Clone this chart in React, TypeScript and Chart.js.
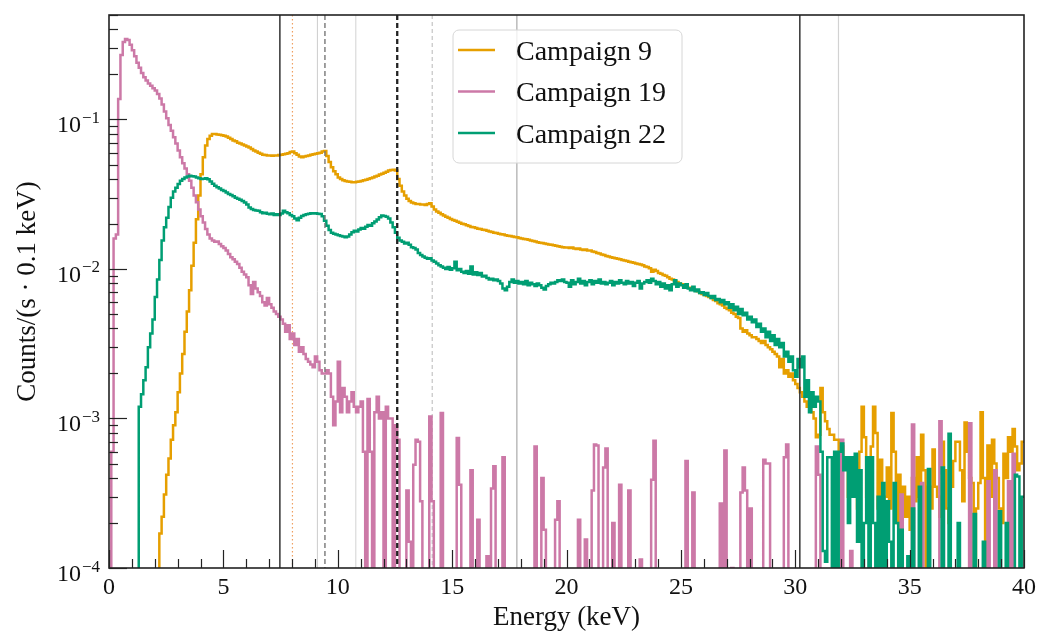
import React, { useEffect, useRef } from "react";
import { Chart, registerables } from "chart.js";

Chart.register(...registerables);

const FONT = '"Liberation Serif", "DejaVu Serif", serif';

const SERIES_LABELS = ["Campaign 9", "Campaign 19", "Campaign 22"];
const SERIES_COLORS = ["#E69F00", "#CC79A7", "#009E73"];
const BIN_WIDTH = 0.1; // keV per bin, bins start at 0 keV

// Counts/(s · 0.1 keV), one value per 0.1 keV bin (rows = 1 keV)
const CAMPAIGN_9 = [
  0, 0, 0, 0, 0, 0, 0, 0, 0, 0,
  0, 0, 0, 0, 0, 0, 0, 0, 0, 0,
  0, 0, 0.00017, 0.00022, 0.00031, 0.00042, 0.00054, 0.00072, 0.0009, 0.0011,
  0.0015, 0.002, 0.0027, 0.0038, 0.0052, 0.0072, 0.0105, 0.015, 0.0215, 0.031,
  0.043, 0.056, 0.067, 0.074, 0.078, 0.08, 0.08, 0.0795, 0.079, 0.0785,
  0.078, 0.077, 0.0755, 0.074, 0.0725, 0.0715, 0.07, 0.069, 0.068, 0.067,
  0.066, 0.065, 0.0635, 0.062, 0.061, 0.06, 0.059, 0.058, 0.0578, 0.0575,
  0.0575, 0.0572, 0.0575, 0.0575, 0.0578, 0.058, 0.0585, 0.059, 0.0595, 0.0605,
  0.061, 0.0595, 0.058, 0.0565, 0.056, 0.0565, 0.057, 0.0575, 0.058, 0.0585,
  0.059, 0.0595, 0.06, 0.061, 0.0615, 0.057, 0.052, 0.048, 0.045, 0.043,
  0.041, 0.04, 0.0392, 0.0388, 0.0385, 0.0383, 0.038, 0.0381, 0.0383, 0.0385,
  0.0388, 0.0392, 0.0396, 0.04, 0.0405, 0.041, 0.0415, 0.042, 0.0428, 0.0434,
  0.044, 0.0448, 0.0455, 0.046, 0.0462, 0.0455, 0.04, 0.036, 0.033, 0.031,
  0.0295, 0.0285, 0.0278, 0.0275, 0.0272, 0.0272, 0.027, 0.027, 0.0268, 0.0272,
  0.0275, 0.0262, 0.025, 0.0242, 0.0238, 0.0232, 0.0228, 0.0224, 0.022, 0.0216,
  0.0213, 0.021, 0.0207, 0.0204, 0.0201, 0.0199, 0.0196, 0.0194, 0.0191, 0.019,
  0.0188, 0.0186, 0.0185, 0.0183, 0.0182, 0.018, 0.0178, 0.0177, 0.0175, 0.0174,
  0.0172, 0.0171, 0.017, 0.0168, 0.0167, 0.0166, 0.0165, 0.0164, 0.0163, 0.0161,
  0.016, 0.0159, 0.0158, 0.0157, 0.0155, 0.0154, 0.0153, 0.0151, 0.015, 0.0149,
  0.0148, 0.0147, 0.0146, 0.0145, 0.0144, 0.0143, 0.0142, 0.0141, 0.014, 0.0139,
  0.0139, 0.0138, 0.0139, 0.0137, 0.0136, 0.0137, 0.0135, 0.0134, 0.0135, 0.0133,
  0.0133, 0.0131, 0.013, 0.0128, 0.0127, 0.0125, 0.0124, 0.0122, 0.0121, 0.012,
  0.0119, 0.0118, 0.0117, 0.0116, 0.0115, 0.0114, 0.0113, 0.0112, 0.0111, 0.011,
  0.0109, 0.0108, 0.0107, 0.0106, 0.0104, 0.0103, 0.0101, 0.0096, 0.0099, 0.0097,
  0.0094, 0.0093, 0.0091, 0.009, 0.0088, 0.0086, 0.0085, 0.0083, 0.0082, 0.008,
  0.0079, 0.0077, 0.0076, 0.0075, 0.0074, 0.0073, 0.0072, 0.0071, 0.0069, 0.0068,
  0.0067, 0.0066, 0.0065, 0.0064, 0.0062, 0.0061, 0.0059, 0.0058, 0.0057, 0.0055,
  0.0054, 0.0053, 0.0051, 0.005, 0.0048, 0.0047, 0.004, 0.0038, 0.0039, 0.0037,
  0.0036, 0.0035, 0.0035, 0.0034, 0.0033, 0.0032, 0.0033, 0.0031, 0.003, 0.0029,
  0.0028, 0.0027, 0.0026, 0.0022, 0.0025, 0.002, 0.0021, 0.0019, 0.002, 0.0018,
  0.0017, 0.0016, 0.0015, 0.0014, 0.0013, 0.0012, 0.0013, 0.0011, 0.001, 0.00075,
  0.00078, 0.0016, 0.0011, 0.00096, 0.00085, 0.00078, 0.00078, 0.00072, 0.00072, 0.0006,
  0.00065, 0.00048, 0.00055, 0.0003, 0.00045, 0.00035, 0.0005, 0.00025, 0.0006, 0.0012,
  0.00075, 0.0003, 0.00045, 0.00065, 0.0012, 0.0008, 0.00025, 0.00053, 0, 0.0003,
  0.00047, 0.00025, 0.00109, 0.0006, 0.0002, 0.00042, 0.0001, 0.00035, 0.00022, 0.0003,
  0.00018, 0.0004, 0.00028, 0.00055, 0.0003, 0.00078, 0.00045, 0, 0.00035, 0.00025,
  0.00062, 0.00035, 0.0003, 0.00022, 0.0007, 0.00045, 0.00025, 0.0002, 0.00035, 0.00052,
  0.0007, 0.0007, 0.00045, 0.00028, 0.00094, 0.0006, 0.0004, 0.00037, 0, 0.00025,
  0.00037, 0.0011, 0.0004, 0, 0.00066, 0.0003, 0.00072, 0.0005, 0.0004, 0.00025,
  0.0002, 0.00058, 0.0004, 0.00075, 0.0006, 0.00085, 0.00065, 0.00045, 0.0005, 0.0007,
];

const CAMPAIGN_19 = [
  0, 0.0006, 0.016, 0.017, 0.137, 0.27, 0.33, 0.345, 0.34, 0.316,
  0.29, 0.265, 0.24, 0.222, 0.205, 0.192, 0.182, 0.174, 0.168, 0.162,
  0.156, 0.148, 0.138, 0.126, 0.113, 0.102, 0.092, 0.084, 0.076, 0.069,
  0.062, 0.056, 0.051, 0.047, 0.043, 0.039, 0.035, 0.031, 0.028, 0.025,
  0.0225, 0.0205, 0.0185, 0.017, 0.016, 0.0155, 0.0152, 0.0153, 0.0147, 0.0142,
  0.0138, 0.0133, 0.0126, 0.012, 0.0116, 0.0112, 0.0108, 0.0102, 0.0096, 0.0092,
  0.0088, 0.0078, 0.0068, 0.0082, 0.0074, 0.007, 0.0066, 0.006, 0.0057, 0.0064,
  0.0058, 0.0055, 0.0052, 0.005, 0.0048, 0.0046, 0.0043, 0.0038, 0.0042, 0.0034,
  0.0037, 0.0031, 0.0034, 0.0028, 0.003, 0.0027, 0.0025, 0.0024, 0.0023, 0.0022,
  0.0026, 0.0024, 0.0021, 0.002, 0.002, 0.0021, 0.002, 0.0014, 0.0009, 0.0013,
  0.0024, 0.0011, 0.0016, 0.0014, 0.0011, 0.0013, 0.0015, 0.0012, 0.0011, 0.0012,
  0.0013, 0.0006, 0, 0.00135, 0.0006, 0, 0.0011, 0.0014, 0.001, 0.0011,
  0, 0.0012, 0.001, 0.001, 0, 0.0009, 0.00072, 0, 0, 0,
  0.00033, 0.00015, 0, 0.00049, 0.00072, 0.0007, 0.00028, 0, 0, 0,
  0.00103, 0.00028, 0, 0, 0, 0.00109, 0, 0, 0, 0,
  0, 0, 0.00074, 0.00036, 0, 0, 0, 0, 0.00045, 0,
  0, 0.00021, 0, 0, 0, 0.00012, 0, 0.00034, 0.00048, 0,
  0, 0, 0.00055, 0, 0, 0, 0, 0, 0, 0,
  0, 0, 0, 0, 0, 0, 0.00065, 0, 0, 0.0004,
  0.00018, 0, 0, 0, 0, 0.00021, 0.00028, 0, 0, 0,
  0, 0, 0, 0, 0, 0.00021, 0, 0, 0.000155, 0,
  0, 0.00033, 0.00067, 0.00066, 0, 0, 0.00047, 0.00063, 0, 0,
  0.0002, 0, 0, 0.00036, 0, 0, 0, 0.00033, 0, 0,
  0, 0, 0.000114, 0, 0, 0, 0, 0.00039, 0.00071, 0,
  0, 0, 0, 0, 0, 0, 0, 0, 0, 0,
  0, 0, 0.00052, 0, 0, 0.00032, 0, 0, 0, 0,
  0, 0, 0, 0, 0, 0, 0, 0.00027, 0, 0.00061,
  0, 0, 0.0001, 0, 0, 0, 0.00032, 0.00047, 0.00033, 0,
  0.00025, 0, 0, 0, 0, 0, 0.00053, 0.0005, 0.0005, 0,
  0, 0, 0, 0, 0, 0.00055, 0.00067, 0, 0, 0,
  0, 0, 0, 0, 0, 0, 0, 0, 0, 0.00065,
  0.00042, 0, 0, 0, 0, 0, 0, 0, 0, 0,
  0.00072, 0, 0, 0, 0.00013, 0, 0, 0, 0, 0,
  0, 0, 0, 0, 0, 0, 0, 0, 0, 0.000245,
  0, 0, 0, 0, 0, 0, 0.00031, 0, 0, 0,
  0, 0.00091, 0, 0, 0, 0.00037, 0, 0, 0, 0,
  0, 0, 0, 0.00096, 0.00043, 0, 0, 0, 0, 0,
  0, 0, 0, 0, 0, 0, 0.00093, 0, 0, 0,
  0, 0, 0, 0, 0.00038, 0, 0, 0.00045, 0, 0,
  0, 0, 0, 0.00038, 0, 0.00058, 0, 0, 0, 0,
];

const CAMPAIGN_22 = [
  0, 0, 0, 0, 0, 0, 0, 0, 0, 0,
  0, 0, 0, 0.0012, 0.00145, 0.0018, 0.0022, 0.003, 0.0037, 0.0046,
  0.0065, 0.0085, 0.0115, 0.0155, 0.019, 0.022, 0.026, 0.03, 0.033, 0.035,
  0.037, 0.039, 0.04, 0.041, 0.0415, 0.042, 0.0418, 0.0415, 0.041, 0.0405,
  0.04, 0.0402, 0.0405, 0.0398, 0.0385, 0.0372, 0.036, 0.0352, 0.0345, 0.0338,
  0.0332, 0.0325, 0.0318, 0.0312, 0.0307, 0.03, 0.0295, 0.029, 0.0285, 0.0278,
  0.027, 0.0258, 0.0252, 0.0248, 0.0246, 0.0245, 0.024, 0.0236, 0.0238, 0.0234,
  0.0232, 0.0235, 0.023, 0.0232, 0.023, 0.0235, 0.0245, 0.024, 0.0236, 0.023,
  0.0225, 0.0218, 0.0212, 0.022, 0.0226, 0.023, 0.0232, 0.0234, 0.0236, 0.0235,
  0.0236, 0.0234, 0.0233, 0.0225, 0.021, 0.0195, 0.0182, 0.0175, 0.0172, 0.017,
  0.0168, 0.0166, 0.0165, 0.0163, 0.0165, 0.017, 0.0176, 0.018, 0.0178, 0.0184,
  0.0188, 0.0186, 0.0192, 0.0197, 0.0195, 0.0202, 0.0208, 0.0214, 0.0222, 0.0228,
  0.0226, 0.0224, 0.0218, 0.0205, 0.019, 0.0175, 0.0162, 0.0155, 0.0152, 0.0148,
  0.015, 0.0145, 0.014, 0.0138, 0.0135, 0.0128, 0.0124, 0.0121, 0.0119, 0.0117,
  0.0118, 0.0114, 0.0112, 0.0109, 0.0106, 0.0104, 0.0102, 0.01, 0.0103, 0.0099,
  0.0101, 0.0112, 0.0098, 0.01, 0.0096, 0.0094, 0.0097, 0.0093, 0.0104, 0.0092,
  0.0095, 0.0091, 0.0094, 0.0089, 0.009, 0.0087, 0.0085, 0.0086, 0.0084, 0.0085,
  0.0083, 0.008, 0.0074, 0.0072, 0.0076, 0.0082, 0.0085, 0.0081, 0.0083, 0.008,
  0.0082, 0.0079, 0.0083, 0.0078, 0.0081, 0.0079, 0.0077, 0.008, 0.0078, 0.0075,
  0.0073, 0.0077, 0.0079, 0.0081, 0.008, 0.0082, 0.0084, 0.0083, 0.0085, 0.0082,
  0.0081, 0.0076, 0.0084, 0.0079, 0.0082, 0.0086, 0.008, 0.0083, 0.0078, 0.0082,
  0.0084, 0.0079, 0.0083, 0.0081, 0.0085, 0.008, 0.0082, 0.0079, 0.0081, 0.0083,
  0.0078, 0.0082, 0.008, 0.0084, 0.0081, 0.0079, 0.0083, 0.008, 0.0082, 0.0077,
  0.0081, 0.0083, 0.0074, 0.008, 0.0082, 0.0084, 0.0081, 0.0086, 0.0083, 0.0079,
  0.0082, 0.0076, 0.008, 0.0074, 0.0078, 0.0072, 0.0079, 0.0084, 0.0076, 0.008,
  0.0078, 0.0075, 0.0079, 0.0074, 0.0072, 0.0076, 0.0071, 0.0073, 0.0069, 0.007,
  0.0067, 0.0069, 0.0066, 0.0064, 0.0066, 0.0062, 0.0063, 0.006, 0.0062, 0.0058,
  0.006, 0.0055, 0.0058, 0.0053, 0.0056, 0.005, 0.0054, 0.0049, 0.0051, 0.0046,
  0.0048, 0.0044, 0.0046, 0.0041, 0.0043, 0.0038, 0.004, 0.0035, 0.0038, 0.0033,
  0.0036, 0.0031, 0.0034, 0.003, 0.0032, 0.0026, 0.0028, 0.0024, 0.0026, 0.0021,
  0.0019, 0.0025, 0.0022, 0.0026, 0.0014, 0.0018, 0.0011, 0.0015, 0.0012, 0.0014,
  0.0013, 0.0006, 0.00013, 0.00011, 0.00055, 0.00055, 0, 0.0006, 0, 0.0006,
  0.00068, 0.00045, 0.00055, 0.0002, 0.00055, 0.0003, 0.00058, 0.00015, 0.00045, 0,
  0.0002, 0.00055, 0, 0.00055, 0.0002, 0, 0.0003, 0, 0.00037, 0,
  0.00028, 0.00015, 0, 0.00037, 0.0002, 0, 0.00018, 0, 0, 0.00012,
  0, 0.00025, 0, 0, 0.00035, 0, 0, 0, 0.00046, 0,
  0, 0, 0, 0, 0.00047, 0, 0, 0.00079, 0, 0,
  0, 0.0002, 0, 0, 0, 0, 0, 0, 0.00023, 0,
  0, 0, 0.00015, 0, 0, 0, 0, 0, 0, 0.00024,
  0, 0, 0.0002, 0, 0, 0, 0.00042, 0.00041, 0, 0.0003,
];

const X_MIN = 0;
const X_MAX = 40;
const Y_MIN = 1e-4;
const Y_MAX = 0.5;
const X_MAJOR_TICKS = [0, 5, 10, 15, 20, 25, 30, 35, 40];
const Y_DECADES = [-4, -3, -2, -1];

// Reference energy lines (keV) and their styles
const LINE_ENERGIES = [7.47, 8.02, 9.11, 9.44, 10.79, 12.6, 14.13, 17.83, 30.2, 31.89];
const LINE_COLORS = ["#333333", "#f0a060", "#cccccc", "#777777", "#d2d2d2", "#222222", "#c4c4c4", "#b0b0b0", "#333333", "#d2d2d2"];
const LINE_WIDTHS = [1.5, 1.2, 1, 1.4, 1, 2.3, 1.2, 1.3, 1.5, 1.2];
const LINE_DASHES = [[], [1.5, 2.5], [], [5, 3], [], [5, 3], [4, 3], [], [], []];
const LINE_ON_TOP = [true, false, false, true, false, true, false, false, true, false];

const X_TITLE = "Energy (keV)";
const Y_TITLE = "Counts/(s \u00b7 0.1 keV)";

function toSteps(values: number[]) {
  const pts = values.map((v, i) => ({ x: i * BIN_WIDTH, y: v > 0 ? v : 1e-6 }));
  const last = values[values.length - 1];
  pts.push({ x: values.length * BIN_WIDTH, y: last > 0 ? last : 1e-6 });
  return pts;
}

const decorPlugin = {
  id: "decor",
  beforeDatasetsDraw(chart: any) {
    drawRefLines(chart, false);
  },
  afterDatasetsDraw(chart: any) {
    drawRefLines(chart, true);
    const { ctx, chartArea } = chart;
    const xs = chart.scales.x;
    const ys = chart.scales.y;
    const { left, right, top, bottom } = chartArea;
    ctx.save();
    // frame
    ctx.strokeStyle = "#222";
    ctx.lineWidth = 1.6;
    ctx.setLineDash([]);
    ctx.strokeRect(left, top, right - left, bottom - top);
    // x ticks (inward)
    ctx.lineWidth = 1.2;
    for (let e = X_MIN; e <= X_MAX; e += 1) {
      const major = X_MAJOR_TICKS.includes(e);
      const px = Math.round(xs.getPixelForValue(e)) + 0.5;
      ctx.beginPath();
      ctx.moveTo(px, bottom);
      ctx.lineTo(px, bottom - (major ? 18 : 9));
      ctx.stroke();
    }
    // y ticks (inward)
    for (const d of Y_DECADES) {
      for (let m = 1; m <= 9; m++) {
        const v = m * Math.pow(10, d);
        if (v < Y_MIN * 0.999 || v > Y_MAX) continue;
        const py = Math.round(ys.getPixelForValue(v)) + 0.5;
        ctx.beginPath();
        ctx.moveTo(left, py);
        ctx.lineTo(left + (m === 1 ? 18 : 9), py);
        ctx.stroke();
      }
    }
    // y tick labels 10^k
    ctx.fillStyle = "#111";
    ctx.textBaseline = "alphabetic";
    ctx.textAlign = "left";
    for (const d of Y_DECADES) {
      const py = ys.getPixelForValue(Math.pow(10, d));
      const base = "10";
      const sup = "\u2212" + Math.abs(d);
      ctx.font = `24px ${FONT}`;
      const bw = ctx.measureText(base).width;
      ctx.font = `17px ${FONT}`;
      const sw = ctx.measureText(sup).width;
      const supX = 100 - sw;
      const baseX = supX - 1 - bw;
      ctx.font = `24px ${FONT}`;
      ctx.fillText(base, baseX, py + 13);
      ctx.font = `17px ${FONT}`;
      ctx.fillText(sup, supX, py + 3.5);
    }
    // axis titles
    ctx.font = `27px ${FONT}`;
    ctx.textAlign = "center";
    ctx.fillText(X_TITLE, (left + right) / 2, 625);
    ctx.save();
    ctx.translate(35, (top + bottom) / 2);
    ctx.rotate(-Math.PI / 2);
    ctx.fillText(Y_TITLE, 0, 0);
    ctx.restore();
    // legend
    const bx = 453, by = 30, bw = 229, bh = 133, r = 6;
    ctx.beginPath();
    ctx.moveTo(bx + r, by);
    ctx.lineTo(bx + bw - r, by);
    ctx.arcTo(bx + bw, by, bx + bw, by + r, r);
    ctx.lineTo(bx + bw, by + bh - r);
    ctx.arcTo(bx + bw, by + bh, bx + bw - r, by + bh, r);
    ctx.lineTo(bx + r, by + bh);
    ctx.arcTo(bx, by + bh, bx, by + bh - r, r);
    ctx.lineTo(bx, by + r);
    ctx.arcTo(bx, by, bx + r, by, r);
    ctx.closePath();
    ctx.fillStyle = "rgba(255,255,255,0.8)";
    ctx.fill();
    ctx.strokeStyle = "#d6d6d6";
    ctx.lineWidth = 1;
    ctx.stroke();
    const rows = [50, 91.5, 133];
    ctx.font = `28px ${FONT}`;
    ctx.textAlign = "left";
    SERIES_LABELS.forEach((lab, i) => {
      ctx.strokeStyle = SERIES_COLORS[i];
      ctx.lineWidth = 2.5;
      ctx.beginPath();
      ctx.moveTo(458, rows[i]);
      ctx.lineTo(495, rows[i]);
      ctx.stroke();
      ctx.fillStyle = "#111";
      ctx.fillText(lab, 516, rows[i] + 9.5);
    });
    ctx.restore();
  },
};

function drawRefLines(chart: any, onTop: boolean) {
  const { ctx, chartArea } = chart;
  const xs = chart.scales.x;
  ctx.save();
  ctx.beginPath();
  ctx.rect(chartArea.left, chartArea.top, chartArea.right - chartArea.left, chartArea.bottom - chartArea.top);
  ctx.clip();
  LINE_ENERGIES.forEach((e, i) => {
    if (LINE_ON_TOP[i] !== onTop) return;
    const px = xs.getPixelForValue(e);
    ctx.strokeStyle = LINE_COLORS[i];
    ctx.lineWidth = LINE_WIDTHS[i];
    ctx.setLineDash(LINE_DASHES[i]);
    ctx.beginPath();
    ctx.moveTo(px, chartArea.top);
    ctx.lineTo(px, chartArea.bottom);
    ctx.stroke();
  });
  ctx.restore();
}

export default function App() {
  const ref = useRef<HTMLCanvasElement>(null);
  useEffect(() => {
    if (!ref.current) return;
    const seriesValues = [CAMPAIGN_9, CAMPAIGN_19, CAMPAIGN_22];
    const chart = new Chart(ref.current, {
      type: "line",
      data: {
        datasets: seriesValues.map((vals, i) => ({
          label: SERIES_LABELS[i],
          data: toSteps(vals),
          borderColor: SERIES_COLORS[i],
          backgroundColor: SERIES_COLORS[i],
          borderWidth: 2.5,
          pointRadius: 0,
          stepped: true,
          fill: false,
          order: 3 - i,
        })),
      },
      options: {
        animation: false,
        responsive: false,
        devicePixelRatio: 1,
        parsing: false,
        layout: { padding: { top: 15, right: 14, left: 0, bottom: 0 } },
        plugins: { legend: { display: false }, tooltip: { enabled: false } },
        scales: {
          x: {
            type: "linear",
            min: X_MIN,
            max: X_MAX,
            grid: { display: false, drawTicks: false },
            border: { display: false },
            ticks: {
              stepSize: 5,
              autoSkip: false,
              maxRotation: 0,
              padding: 5,
              color: "#111",
              font: { family: FONT, size: 24 },
            },
            afterFit: (s: any) => {
              s.height = 63;
            },
          },
          y: {
            type: "logarithmic",
            min: Y_MIN,
            max: Y_MAX,
            grid: { display: false, drawTicks: false },
            border: { display: false },
            ticks: { display: false },
            afterFit: (s: any) => {
              s.width = 109;
            },
          },
        },
      },
      plugins: [decorPlugin],
    });
    return () => chart.destroy();
  }, []);
  return (
    <div style={{ position: "fixed", left: 0, top: 0, width: 1041, height: 631, background: "#fff" }}>
      <canvas ref={ref} width={1041} height={631} style={{ display: "block" }} />
    </div>
  );
}
